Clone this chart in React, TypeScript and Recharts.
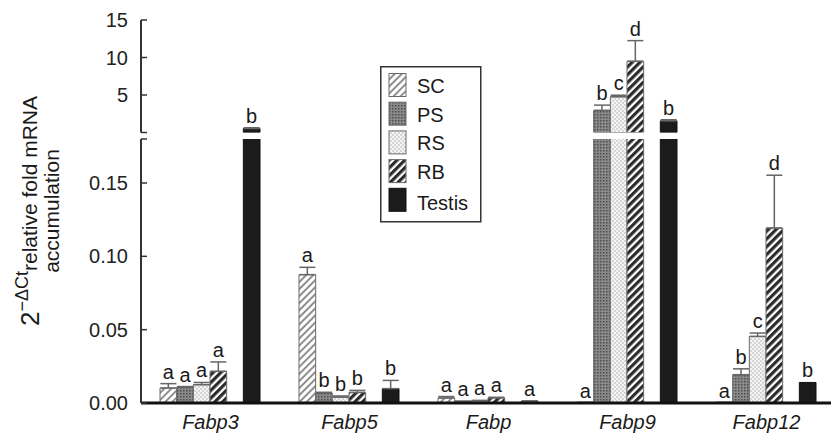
import { BarChart, Bar, XAxis, YAxis, ErrorBar, LabelList, Legend } from 'recharts'

const FONT = '"Liberation Sans", Arial, Helvetica, sans-serif'

const genes = ['Fabp3', 'Fabp5', 'Fabp', 'Fabp9', 'Fabp12']

const scValues = [0.0102, 0.0875, 0.0034, 0, 0]
const scErrors = [0.003, 0.005, 0.001, 0, 0]
const scLetters = ['a', 'a', 'a', 'a', 'a']

const psValues = [0.0107, 0.0068, 0.001, 2.95, 0.0193]
const psErrors = [0.0005, 0.0005, 0.0003, 0.7, 0.004]
const psLetters = ['a', 'b', 'a', 'b', 'b']

const rsValues = [0.0125, 0.004, 0.0015, 4.77, 0.0454]
const rsErrors = [0.0015, 0.0008, 0.0003, 0.2, 0.0023]
const rsLetters = ['a', 'b', 'a', 'c', 'c']

const rbValues = [0.0216, 0.0072, 0.0035, 9.5, 0.1193]
const rbErrors = [0.0064, 0.0014, 0.0004, 2.75, 0.036]
const rbLetters = ['a', 'b', 'a', 'd', 'd']

const testisValues = [0.53, 0.0098, 0.0012, 1.55, 0.014]
const testisErrors = [0.1, 0.0056, 0.0002, 0.15, 0]
const testisLetters = ['b', 'b', 'a', 'b', 'b']

const lowerMax = 0.18
const lowerTicks = [0, 0.05, 0.1, 0.15, 0.18]
const upperMax = 15
const upperTicks = [0, 5, 10, 15]

const series = [
  { key: 'SC', values: scValues, errors: scErrors, letters: scLetters },
  { key: 'PS', values: psValues, errors: psErrors, letters: psLetters },
  { key: 'RS', values: rsValues, errors: rsErrors, letters: rsLetters },
  { key: 'RB', values: rbValues, errors: rbErrors, letters: rbLetters },
  { key: 'Testis', values: testisValues, errors: testisErrors, letters: testisLetters },
]

type Series = (typeof series)[number]

// lower panel gets every value (tall bars are clipped), upper panel only the big ones
const lowerData = genes.map((gene, i) => {
  const row: Record<string, unknown> = { gene, gap: null }
  series.forEach((s) => {
    const v = s.values[i]
    row[s.key] = v
    row[s.key + 'Err'] = v <= lowerMax && s.errors[i] > 0 ? [0, s.errors[i]] : null
    row[s.key + 'Idx'] = i
  })
  return row
})

const upperData = genes.map((gene, i) => {
  const row: Record<string, unknown> = { gene, gap: null }
  series.forEach((s) => {
    const v = s.values[i]
    row[s.key] = v > lowerMax ? v : null
    row[s.key + 'Err'] = v > lowerMax && s.errors[i] > 0 ? [0, s.errors[i]] : null
    row[s.key + 'Idx'] = i
  })
  return row
})

function Patterns({ p }: { p: string }) {
  return (
    <defs>
      <pattern id={`${p}-SC`} width={5} height={5} patternUnits="userSpaceOnUse" patternTransform="rotate(45)">
        <rect width={5} height={5} fill="#ffffff" />
        <rect width={2} height={5} fill="#8f8f8f" />
      </pattern>
      <pattern id={`${p}-PS`} width={3} height={3} patternUnits="userSpaceOnUse">
        <rect width={3} height={3} fill="#8a8a8a" />
        <rect width={1.5} height={1.5} fill="#4d4d4d" />
      </pattern>
      <pattern id={`${p}-RS`} width={4} height={4} patternUnits="userSpaceOnUse">
        <rect width={4} height={4} fill="#f4f4f4" />
        <circle cx={1} cy={1} r={0.8} fill="#b0b0b0" />
        <circle cx={3} cy={3} r={0.8} fill="#b0b0b0" />
      </pattern>
      <pattern id={`${p}-RB`} width={5.5} height={5.5} patternUnits="userSpaceOnUse" patternTransform="rotate(45)">
        <rect width={5.5} height={5.5} fill="#ffffff" />
        <rect width={3.2} height={5.5} fill="#2b2b2b" />
      </pattern>
    </defs>
  )
}

const fillOf = (p: string, key: string) => (key === 'Testis' ? '#1b1b1b' : `url(#${p}-${key})`)
const strokeOf = (key: string) => (key === 'Testis' ? '#111' : '#6a6a6a')

function letterContent(s: Series, show: (v: number) => boolean) {
  return (props: any) => {
    const i = Number(props.value)
    const v = s.values[i]
    if (v == null || !show(v)) return null
    const vb = props.viewBox ?? props
    const x = Number(vb.x)
    const w = Number(vb.width)
    const h = Math.abs(Number(vb.height))
    const y = Math.min(Number(vb.y), Number(vb.y) + Number(vb.height))
    const px = v > 0 ? h / v : 0
    const top = v > 0 ? y - s.errors[i] * px : y + h
    return (
      <text x={x + w / 2} y={top - 5} textAnchor="middle" fontSize={20} fontFamily={FONT} fill="#1a1a1a">
        {s.letters[i]}
      </text>
    )
  }
}

function renderBars(p: string, show: (v: number) => boolean, minSize: number) {
  const bars = series.map((s) => (
    <Bar
      key={s.key}
      dataKey={s.key}
      fill={fillOf(p, s.key)}
      stroke={strokeOf(s.key)}
      strokeWidth={1}
      barSize={100 / 6}
      minPointSize={minSize}
      isAnimationActive={false}
    >
      <ErrorBar dataKey={s.key + 'Err'} direction="y" width={8} stroke="#666" strokeWidth={1.5} />
      <LabelList dataKey={s.key + 'Idx'} content={letterContent(s, show)} />
    </Bar>
  ))
  // empty slot between RB and Testis
  bars.splice(
    4,
    0,
    <Bar key="gap" dataKey="gap" fill="none" barSize={100 / 6} legendType="none" isAnimationActive={false} />
  )
  return bars
}

function LegendBox() {
  const rowH = 28.7
  return (
    <svg width={102} height={157} style={{ display: 'block' }}>
      <Patterns p="lg" />
      <rect x={0.75} y={0.75} width={100} height={155} fill="#fff" stroke="#333" strokeWidth={1.5} />
      {series.map((s, i) => (
        <g key={s.key}>
          <rect x={9} y={7.5 + i * rowH} width={17} height={23} fill={fillOf('lg', s.key)} stroke={strokeOf(s.key)} />
          <text x={37} y={27 + i * rowH + (s.key === 'Testis' ? 2 : 0)} fontSize={20} fontFamily={FONT} fill="#1a1a1a">
            {s.key}
          </text>
        </g>
      ))}
    </svg>
  )
}

const tickStyle = { fontSize: 20, fill: '#222', fontFamily: FONT }

export default function App() {
  return (
    <div style={{ position: 'absolute', left: 0, top: 0, width: 831, height: 436, overflow: 'hidden', background: '#fff' }}>
      <div style={{ position: 'absolute', left: 0, top: 0 }}>
        <BarChart width={840} height={436} data={lowerData} margin={{ top: 139, right: 4, bottom: 3, left: 0 }} barGap={0}>
          <Patterns p="lo" />
          <XAxis
            dataKey="gene"
            height={30}
            tickLine={false}
            tickMargin={6}
            axisLine={{ stroke: '#111', strokeWidth: 3 }}
            tick={{ ...tickStyle, fontStyle: 'italic', fill: '#1a1a1a' }}
          />
          <YAxis
            domain={[0, lowerMax]}
            ticks={lowerTicks}
            allowDataOverflow
            width={141}
            tickSize={-6}
            tickMargin={19}
            tickFormatter={(v: number) => (v === lowerMax ? '' : v.toFixed(2))}
            axisLine={{ stroke: '#333', strokeWidth: 2 }}
            tickLine={{ stroke: '#333', strokeWidth: 1.5 }}
            tick={tickStyle}
          />
          <Legend
            layout="vertical"
            align="center"
            verticalAlign="middle"
            wrapperStyle={{ left: 380, top: 66, width: 102 }}
            content={() => <LegendBox />}
          />
          {renderBars('lo', (v) => v <= lowerMax, 1)}
        </BarChart>
      </div>
      <div style={{ position: 'absolute', left: 0, top: 0 }}>
        <BarChart width={840} height={140} data={upperData} margin={{ top: 20, right: 4, bottom: 7.5, left: 0 }} barGap={0}>
          <Patterns p="up" />
          <XAxis dataKey="gene" hide />
          <YAxis
            domain={[0, upperMax]}
            ticks={upperTicks}
            allowDataOverflow
            width={141}
            tickSize={-6}
            tickMargin={19}
            tickFormatter={(v: number) => (v === 0 ? '' : String(v))}
            axisLine={{ stroke: '#333', strokeWidth: 2 }}
            tickLine={{ stroke: '#333', strokeWidth: 1.5 }}
            tick={tickStyle}
          />
          {renderBars('up', (v) => v > lowerMax, 0)}
        </BarChart>
      </div>
      <svg width={90} height={436} style={{ position: 'absolute', left: 0, top: 0 }}>
        <g transform="translate(39, 211) rotate(-90)" fontFamily={FONT} fill="#1a1a1a">
          <text textAnchor="middle" fontSize={21}>
            <tspan fontSize={26}>2</tspan>
            <tspan fontSize={18} dy={-11}>−ΔCt</tspan>
            <tspan dy={9}>relative fold mRNA</tspan>
          </text>
          <text y={20} textAnchor="middle" fontSize={21}>
            accumulation
          </text>
        </g>
      </svg>
    </div>
  )
}
